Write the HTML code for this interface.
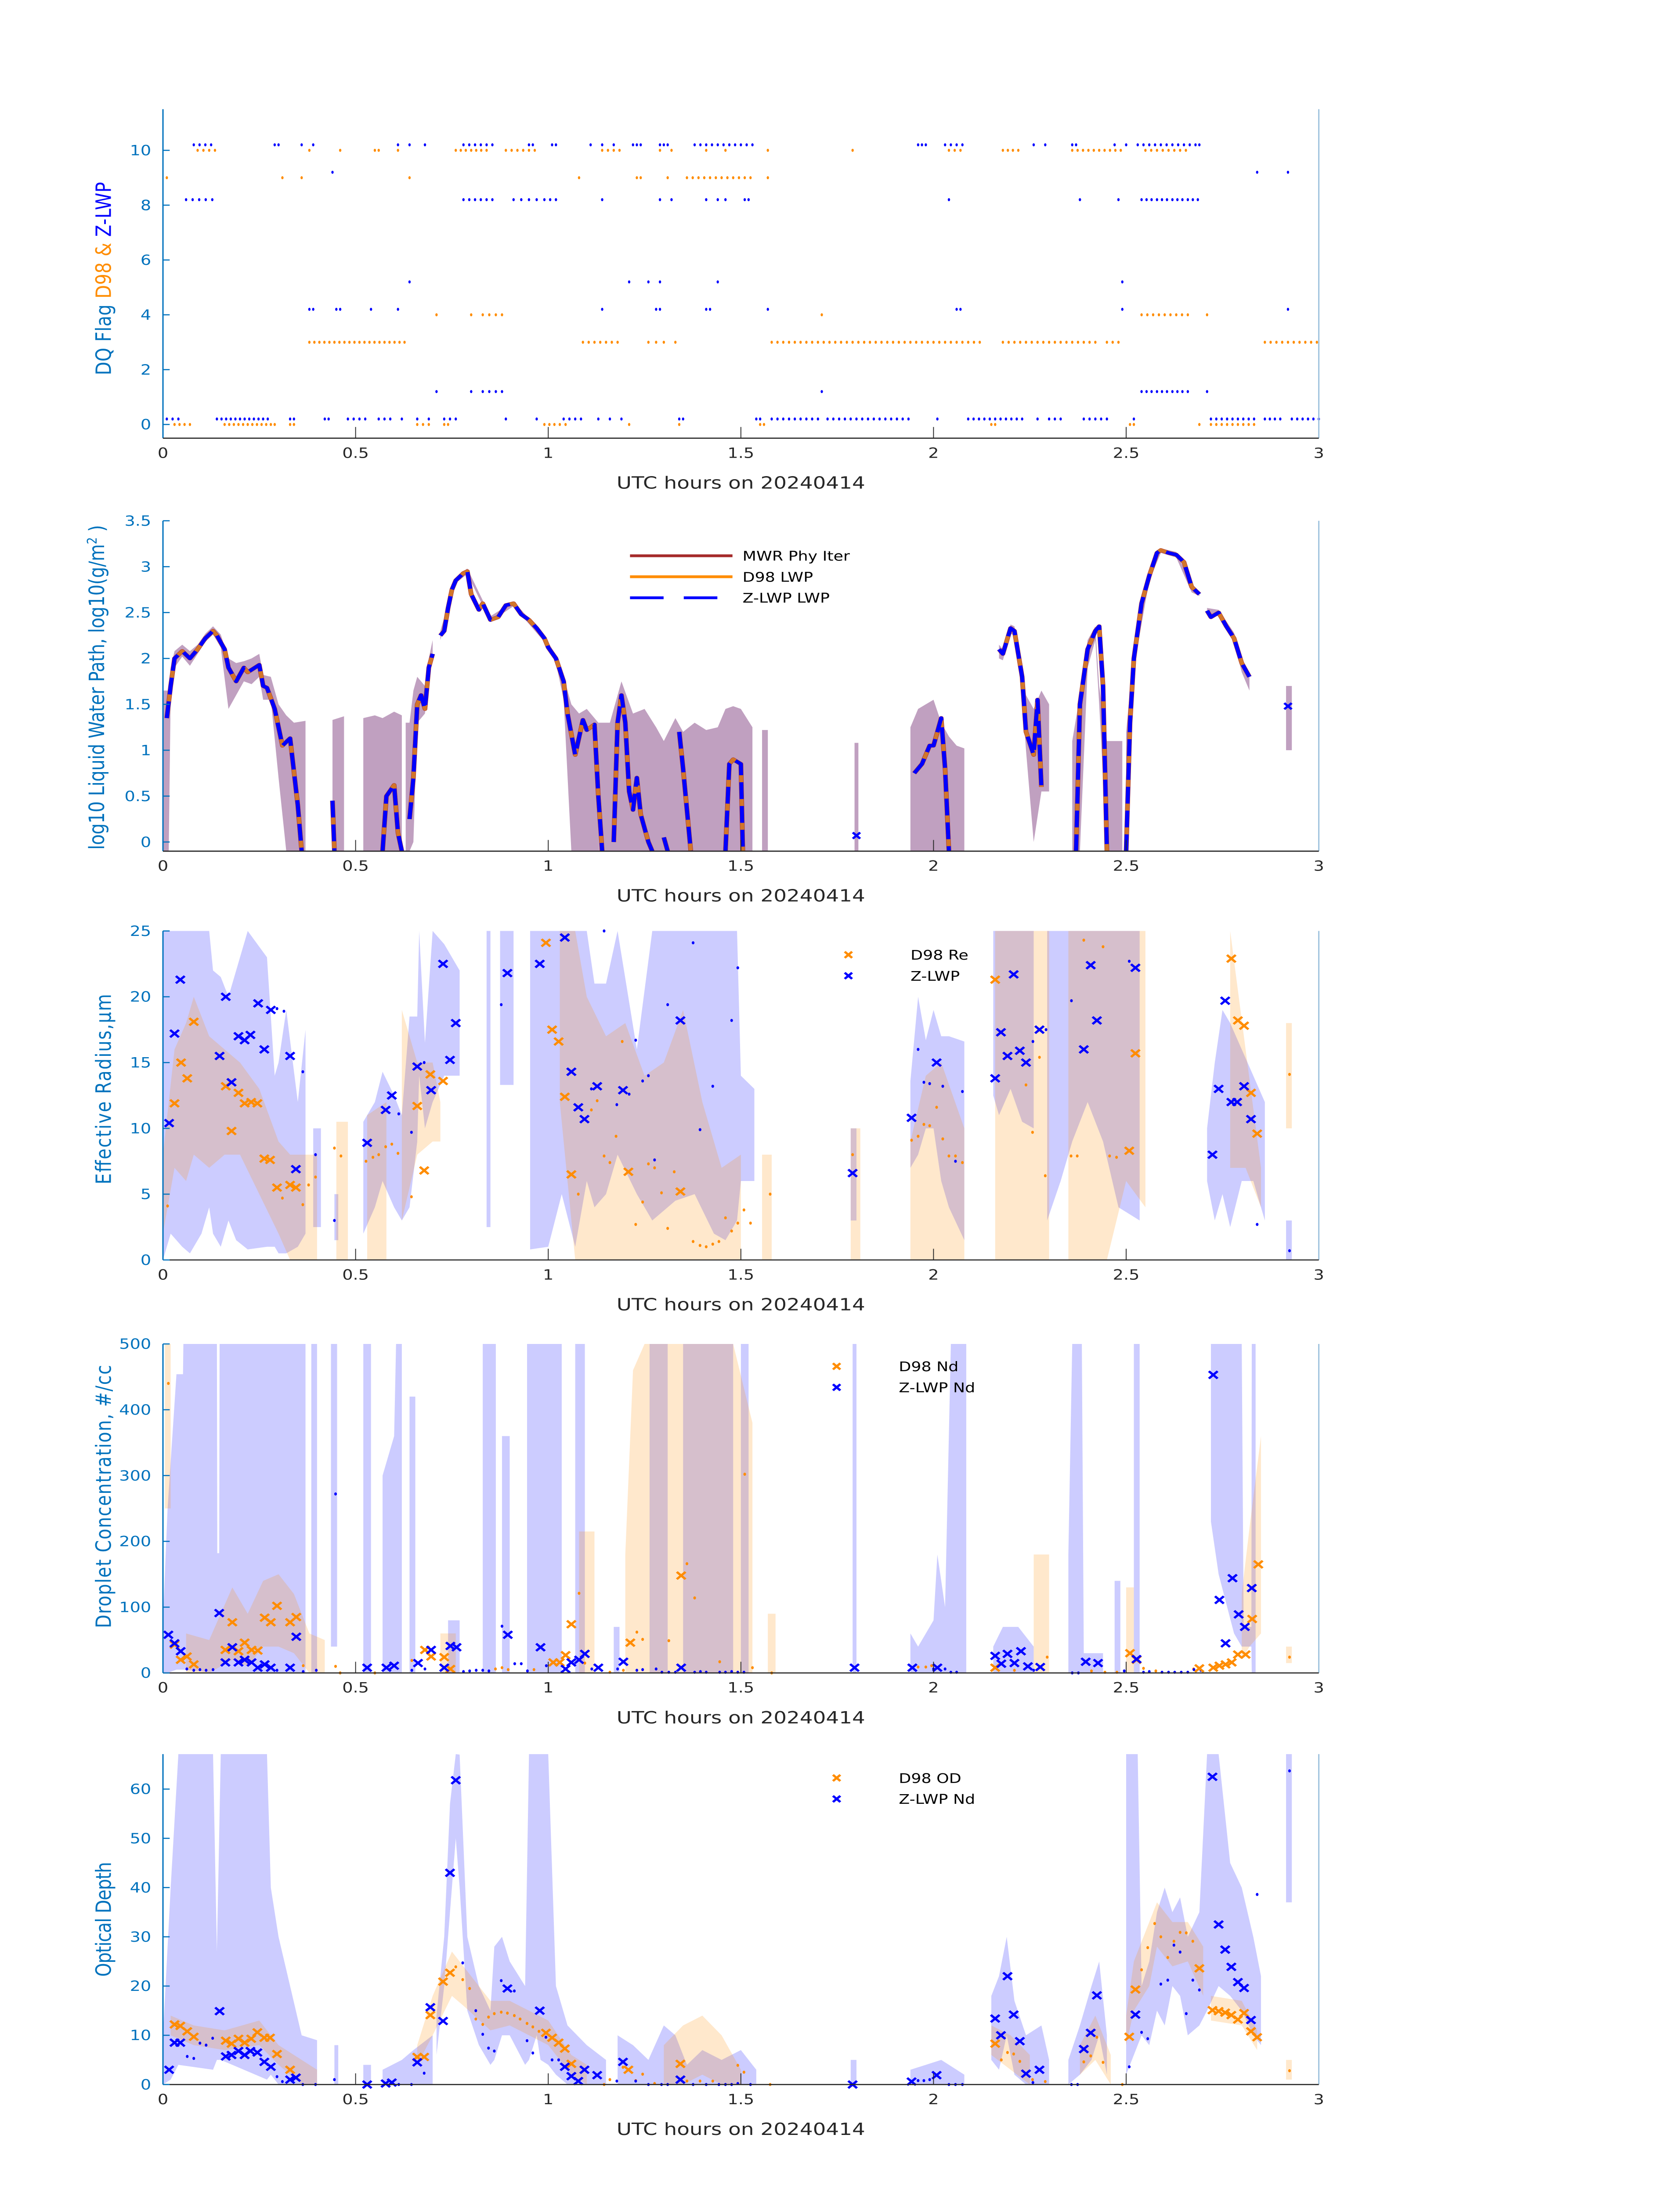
<!DOCTYPE html>
<html><head><meta charset="utf-8"><title>Cloud retrieval time series</title>
<style>html,body{margin:0;padding:0;background:#fff;width:100vw;height:100vh;overflow:hidden}svg{display:block;position:fixed;left:0;top:0;width:100vw;height:100vh}text{font-family:"DejaVu Sans","Liberation Sans",sans-serif}</style>
</head><body>
<svg id="fig" xmlns="http://www.w3.org/2000/svg" viewBox="0 0 1000 1568.63" preserveAspectRatio="none">
<rect x="0" y="0" width="1000" height="1568.63" fill="#fff"/>
<g id="p1"></g>
<g id="p2"></g>
<g id="p3"></g>
<g id="p4"></g>
<g id="p5"></g>
</svg>
<script>
// ---------- DATA ----------
const xTicks=[0,0.5,1,1.5,2,2.5,3];
const xTickLabels=['0','0.5','1','1.5','2','2.5','3'];
// Panel 1: DQ flags (times in hours for each flag level)
const zFlag10_2=[0.08,0.095,0.11,0.125,0.29,0.3,0.36,0.39,0.61,0.64,0.68,0.78,0.795,0.81,0.825,0.84,0.855,0.95,0.96,1.01,1.02,1.11,1.14,1.17,1.22,1.23,1.24,1.29,1.3,1.31,1.38,1.395,1.41,1.425,1.44,1.455,1.47,1.485,1.5,1.515,1.53,1.96,1.97,1.98,2.03,2.045,2.06,2.075,2.26,2.29,2.36,2.37,2.47,2.5,2.53,2.545,2.56,2.575,2.59,2.605,2.62,2.635,2.65,2.665,2.68,2.69];
const dFlag10=[0.09,0.105,0.12,0.135,0.38,0.46,0.55,0.56,0.61,0.76,0.773,0.786,0.8,0.813,0.826,0.84,0.89,0.905,0.92,0.935,0.95,0.965,1.14,1.155,1.17,1.185,1.29,1.32,1.41,1.46,1.57,1.79,2.04,2.055,2.07,2.18,2.193,2.206,2.22,2.36,2.374,2.388,2.402,2.416,2.43,2.444,2.458,2.472,2.486,2.55,2.565,2.58,2.595,2.61,2.625,2.64,2.655];
const zFlag9_2=[0.44,2.84,2.92];
const dFlag9=[0.01,0.31,0.36,0.64,1.08,1.23,1.24,1.31,1.36,1.375,1.39,1.405,1.42,1.435,1.45,1.465,1.48,1.495,1.51,1.525,1.57];
const zFlag8_2=[0.06,0.077,0.094,0.111,0.128,0.78,0.795,0.81,0.825,0.84,0.855,0.91,0.93,0.95,0.97,0.99,1.005,1.02,1.14,1.29,1.32,1.41,1.44,1.46,1.51,1.52,2.04,2.38,2.48,2.54,2.553,2.566,2.58,2.593,2.606,2.62,2.633,2.646,2.66,2.673,2.686];
const zFlag5_2=[0.64,1.21,1.26,1.29,1.44,2.49];
const zFlag4_2=[0.38,0.39,0.45,0.46,0.54,0.61,1.14,1.28,1.29,1.41,1.42,1.57,2.06,2.07,2.49,2.92];
const dFlag4=[0.71,0.8,0.83,0.847,0.864,0.88,1.71,2.54,2.555,2.57,2.585,2.6,2.615,2.63,2.645,2.66,2.71];
const dFlag3=[0.38,0.393,0.406,0.419,0.432,0.445,0.458,0.471,0.484,0.497,0.51,0.523,0.536,0.549,0.562,0.575,0.588,0.601,0.614,0.627,1.09,1.105,1.12,1.135,1.15,1.165,1.18,1.26,1.28,1.3,1.33,1.58,1.595,1.61,1.625,1.64,1.655,1.67,1.685,1.7,1.715,1.73,1.745,1.76,1.775,1.79,1.805,1.82,1.835,1.85,1.865,1.88,1.895,1.91,1.925,1.94,1.955,1.97,1.985,2.0,2.015,2.03,2.045,2.06,2.075,2.09,2.105,2.12,2.18,2.195,2.21,2.225,2.24,2.255,2.27,2.285,2.3,2.315,2.33,2.345,2.36,2.375,2.39,2.405,2.42,2.45,2.465,2.48,2.86,2.875,2.89,2.905,2.92,2.935,2.95,2.965,2.98,2.995];
const zFlag1_2=[0.71,0.8,0.83,0.847,0.864,0.88,1.71,2.54,2.553,2.566,2.58,2.593,2.606,2.62,2.633,2.646,2.66,2.71];
const zFlag0_2=[0.01,0.025,0.04,0.14,0.152,0.164,0.176,0.188,0.2,0.212,0.224,0.236,0.248,0.26,0.272,0.33,0.34,0.42,0.43,0.48,0.495,0.51,0.525,0.56,0.575,0.59,0.62,0.66,0.69,0.73,0.745,0.76,0.89,0.97,1.04,1.055,1.07,1.085,1.13,1.16,1.19,1.34,1.35,1.54,1.55,1.58,1.595,1.61,1.625,1.64,1.655,1.67,1.685,1.7,1.725,1.74,1.755,1.77,1.785,1.8,1.815,1.83,1.845,1.86,1.875,1.89,1.905,1.92,1.935,2.01,2.09,2.104,2.118,2.132,2.146,2.16,2.174,2.188,2.202,2.216,2.23,2.27,2.3,2.315,2.33,2.39,2.405,2.42,2.435,2.45,2.52,2.72,2.734,2.748,2.762,2.776,2.79,2.804,2.818,2.832,2.86,2.873,2.886,2.9,2.93,2.944,2.958,2.972,2.986,3.0];
const dFlag0=[0.03,0.043,0.056,0.07,0.16,0.172,0.184,0.196,0.208,0.22,0.232,0.244,0.256,0.268,0.28,0.29,0.33,0.34,0.66,0.675,0.69,0.73,0.74,0.99,1.003,1.016,1.03,1.045,1.21,1.34,1.55,1.56,2.15,2.16,2.51,2.52,2.69,2.72,2.734,2.748,2.762,2.776,2.79,2.804,2.818,2.832];

// Panel 2: log10 LWP line segments [t, value]
const lwpSegs=[
 [[0.01,1.35],[0.02,1.7],[0.03,2.0],[0.05,2.08],[0.07,2.0],[0.09,2.1],[0.11,2.22],[0.13,2.3],[0.14,2.25],[0.16,2.1],[0.17,1.9],[0.19,1.75],[0.21,1.9],[0.22,1.85],[0.25,1.93],[0.26,1.7],[0.27,1.68],[0.29,1.45],[0.31,1.05],[0.33,1.13],[0.35,0.4],[0.36,-0.1]],
 [[0.44,0.45],[0.445,-0.1]],
 [[0.57,-0.1],[0.58,0.5],[0.6,0.62],[0.61,0.1],[0.62,-0.1]],
 [[0.64,0.25],[0.65,0.7],[0.66,1.5],[0.67,1.6],[0.68,1.45],[0.69,1.9],[0.7,2.05]],
 [[0.72,2.25],[0.73,2.3],[0.74,2.55],[0.75,2.75],[0.76,2.85],[0.78,2.93],[0.79,2.95],[0.8,2.7],[0.82,2.53],[0.83,2.6],[0.85,2.42],[0.87,2.45],[0.89,2.58],[0.91,2.6],[0.93,2.48],[0.95,2.42],[0.97,2.33],[0.99,2.22],[1.0,2.12],[1.02,2.0],[1.04,1.75],[1.05,1.4],[1.07,0.95],[1.09,1.33],[1.1,1.22],[1.12,1.28],[1.13,0.5],[1.14,-0.1]],
 [[1.17,0.0],[1.18,1.3],[1.19,1.6],[1.2,1.3],[1.21,0.55],[1.22,0.35],[1.23,0.7],[1.24,0.3],[1.26,0.0],[1.27,-0.1]],
 [[1.3,0.05],[1.31,-0.1]],
 [[1.34,1.2],[1.35,0.8],[1.37,-0.1]],
 [[1.46,-0.1],[1.47,0.85],[1.48,0.9],[1.5,0.85],[1.505,-0.1]],
 [[1.95,0.75],[1.97,0.85],[1.99,1.05],[2.0,1.05],[2.02,1.35],[2.03,0.8],[2.04,-0.1]],
 [[2.17,2.1],[2.18,2.05],[2.2,2.33],[2.21,2.3],[2.23,1.8],[2.24,1.2],[2.26,0.95],[2.27,1.55],[2.28,0.6]],
 [[2.37,-0.1],[2.38,1.5],[2.4,2.1],[2.42,2.3],[2.43,2.35],[2.44,1.7],[2.45,-0.1]],
 [[2.5,-0.1],[2.51,1.3],[2.52,2.0],[2.54,2.6],[2.56,2.9],[2.58,3.15],[2.59,3.18],[2.61,3.15],[2.63,3.13],[2.65,3.05],[2.67,2.78],[2.69,2.7]],
 [[2.71,2.52],[2.72,2.45],[2.74,2.5],[2.76,2.35],[2.78,2.22],[2.8,1.95],[2.82,1.8]]
];
const lwpMarkers=[[1.8,0.07],[2.92,1.48]];
// band segments [t, lo, hi]
const lwpBand=[
 [[0.0,-0.1,1.65],[0.015,-0.1,1.65],[0.02,1.6,1.9],[0.03,1.9,2.08],[0.05,2.02,2.15],[0.07,1.92,2.08],[0.09,2.05,2.15],[0.11,2.18,2.27],[0.13,2.26,2.35],[0.15,2.12,2.26],[0.17,1.45,2.0],[0.19,1.6,1.95],[0.21,1.75,1.97],[0.23,1.72,2.0],[0.25,1.8,2.05],[0.26,1.55,1.82],[0.28,1.55,1.8],[0.3,0.7,1.5],[0.32,-0.1,1.38],[0.34,-0.1,1.3],[0.37,-0.1,1.32]],
 [[0.44,-0.1,1.33],[0.47,-0.1,1.37]],
 [[0.52,-0.1,1.35],[0.55,-0.1,1.38],[0.57,-0.1,1.35],[0.6,-0.1,1.42],[0.62,-0.1,1.38]],
 [[0.63,-0.1,1.3],[0.64,-0.1,1.3],[0.65,0.0,1.65],[0.66,1.3,1.8],[0.68,1.4,1.7],[0.69,1.8,2.0],[0.7,2.0,2.2]],
 [[0.72,2.2,2.3],[0.76,2.82,2.88],[0.79,2.92,2.98],[0.85,2.4,2.46],[0.91,2.57,2.62],[0.99,2.18,2.25],[1.02,1.95,2.03],[1.04,1.55,1.8],[1.06,-0.1,1.5],[1.08,-0.1,1.4],[1.1,-0.1,1.45],[1.13,-0.1,1.3]],
 [[1.13,-0.1,1.3],[1.16,-0.1,1.3],[1.19,-0.1,1.75],[1.22,-0.1,1.4],[1.25,-0.1,1.45],[1.28,-0.1,1.25],[1.3,-0.1,1.1],[1.33,-0.1,1.35],[1.35,-0.1,1.2],[1.38,-0.1,1.3],[1.41,-0.1,1.22],[1.44,-0.1,1.25],[1.46,-0.1,1.45],[1.48,-0.1,1.48],[1.5,-0.1,1.45],[1.53,-0.1,1.25]],
 [[1.555,-0.1,1.22],[1.57,-0.1,1.22]],
 [[1.795,-0.1,1.08],[1.805,-0.1,1.08]],
 [[1.94,-0.1,1.25],[1.96,-0.1,1.45],[1.98,-0.1,1.5],[2.0,-0.1,1.55],[2.02,-0.1,1.3],[2.04,-0.1,1.15],[2.06,-0.1,1.05],[2.08,-0.1,1.02]],
 [[2.17,2.0,2.15],[2.18,1.98,2.1],[2.2,2.27,2.37],[2.21,2.25,2.35],[2.23,1.6,1.95],[2.24,1.0,1.6],[2.26,0.0,1.45],[2.28,0.55,1.65],[2.3,0.55,1.5]],
 [[2.36,-0.1,1.1],[2.38,-0.1,1.6],[2.4,1.9,2.2],[2.42,2.2,2.35],[2.43,1.5,1.7],[2.45,-0.1,1.1],[2.49,-0.1,1.1]],
 [[2.5,-0.1,1.2],[2.52,1.9,2.1],[2.56,2.85,2.95],[2.59,3.15,3.2],[2.63,3.1,3.16],[2.67,2.72,2.8],[2.69,2.68,2.73]],
 [[2.71,2.48,2.55],[2.74,2.46,2.53],[2.78,2.18,2.28],[2.8,1.85,2.0],[2.82,1.65,1.85]],
 [[2.915,1.0,1.7],[2.93,1.0,1.7]]
];

// Panel 3: effective radius
const reZBig=[[0.016,10.4],[0.03,17.2],[0.045,21.3],[0.147,15.5],[0.163,20],[0.178,13.5],[0.196,17],[0.212,16.7],[0.227,17.1],[0.247,19.5],[0.263,16],[0.28,19],[0.33,15.5],[0.345,6.9],[0.53,8.9],[0.578,11.4],[0.594,12.5],[0.66,14.7],[0.696,12.9],[0.727,22.5],[0.745,15.2],[0.76,18],[0.894,21.8],[0.978,22.5],[1.043,24.5],[1.06,14.3],[1.078,11.6],[1.094,10.7],[1.127,13.2],[1.194,12.9],[1.343,18.2],[1.79,6.6],[1.943,10.8],[2.008,15],[2.16,13.8],[2.175,17.3],[2.192,15.5],[2.208,21.7],[2.224,15.9],[2.24,15],[2.275,17.5],[2.39,16],[2.408,22.4],[2.424,18.2],[2.524,22.2],[2.724,8],[2.74,13],[2.757,19.7],[2.773,12],[2.788,12],[2.806,13.2],[2.824,10.7]];
const reDBig=[[0.03,11.9],[0.047,15],[0.063,13.8],[0.08,18.1],[0.163,13.2],[0.178,9.8],[0.196,12.7],[0.212,11.9],[0.229,12],[0.245,11.9],[0.263,7.7],[0.278,7.6],[0.296,5.5],[0.33,5.7],[0.345,5.5],[0.66,11.7],[0.678,6.8],[0.694,14.1],[0.727,13.6],[0.994,24.1],[1.01,17.5],[1.027,16.6],[1.043,12.4],[1.06,6.5],[1.208,6.7],[1.343,5.2],[2.16,21.3],[2.508,8.3],[2.524,15.7],[2.773,22.9],[2.79,18.2],[2.806,17.8],[2.824,12.7],[2.84,9.6]];
const reDSmall=[[0.012,4.1],[0.31,4.7],[0.363,4.2],[0.378,5.7],[0.396,6.3],[0.445,8.5],[0.462,7.9],[0.527,7.5],[0.545,7.8],[0.56,8],[0.578,8.6],[0.594,8.8],[0.61,8.1],[0.645,4.8],[1.078,5],[1.112,11.4],[1.127,12.1],[1.145,7.9],[1.16,7.4],[1.176,9.4],[1.192,16.6],[1.227,2.7],[1.245,4.4],[1.26,7.3],[1.276,7],[1.294,5.1],[1.31,2.4],[1.327,6.7],[1.376,1.4],[1.394,1.1],[1.41,1],[1.427,1.2],[1.443,1.4],[1.46,3.2],[1.476,2.2],[1.492,2.8],[1.508,3.8],[1.525,2.8],[1.576,5],[1.79,8],[1.943,9.1],[1.96,9.4],[1.975,10.3],[1.99,10.2],[2.008,11.6],[2.024,9.2],[2.04,7.9],[2.057,7.9],[2.075,7.4],[2.24,13.3],[2.257,9.7],[2.275,15.4],[2.29,6.4],[2.357,7.9],[2.373,7.9],[2.39,24.3],[2.44,23.8],[2.457,7.9],[2.475,7.8],[2.924,14.1]];
const reZSmall=[[0.296,19.1],[0.314,18.9],[0.363,14.3],[0.396,8],[0.445,3],[0.612,11.1],[0.645,9.7],[0.678,15],[0.878,19.4],[1.145,25],[1.112,13],[1.178,11.8],[1.21,12.6],[1.227,16.7],[1.245,13.6],[1.26,14],[1.276,7.6],[1.31,19.4],[1.376,24.1],[1.394,9.9],[1.427,13.2],[1.476,18.2],[1.492,22.2],[1.96,16],[1.975,13.5],[1.99,13.4],[2.024,13.2],[2.057,7.5],[2.075,12.8],[2.258,16.6],[2.292,17.5],[2.358,19.7],[2.508,22.7],[2.84,2.7],[2.924,0.7]];
const reZBand=[
 [[0.0,0,25],[0.02,2,25],[0.05,1,25],[0.07,0.5,25],[0.1,2,25],[0.12,4,25],[0.13,2,22],[0.15,1,21.5],[0.17,3,20],[0.19,1.5,22],[0.22,0.8,25],[0.27,1,23],[0.29,1,14],[0.3,0.5,15],[0.32,0.5,19],[0.35,1,12],[0.37,2,17.5]],
 [[0.39,2.5,10],[0.41,2.5,10]],[[0.445,1.5,5],[0.455,1.5,5]],
 [[0.52,2,10.5],[0.55,4,12],[0.57,6,14.3],[0.6,4,12.5],[0.62,3,11],[0.64,4,18.5],[0.66,9,18.5],[0.665,14,25],[0.68,10,16.5],[0.7,12,25],[0.73,14,24],[0.77,14,22]],
 [[0.84,2.5,25],[0.85,2.5,25]],[[0.875,13.3,25],[0.91,13.3,25]],
 [[0.953,0.8,25],[1.0,1,25],[1.035,5,25],[1.07,1,25],[1.1,6,25],[1.12,4,21],[1.15,5,21],[1.18,8,25],[1.23,5,16],[1.27,3,25],[1.33,4.5,25],[1.38,5,25],[1.43,2,25],[1.46,1.5,25],[1.49,3,25],[1.5,6,14],[1.535,6,13]],
 [[1.785,3,10],[1.8,3,10]],
 [[1.94,7,13.6],[1.96,8,20],[1.98,10,16.7],[2.0,10,19],[2.02,6,17],[2.04,4,17],[2.08,1.5,16.6]],
 [[2.155,12.5,25],[2.17,11,25],[2.2,13,25],[2.23,10.5,25],[2.26,10,25]],
 [[2.295,3,25],[2.33,6,25],[2.36,9,25],[2.4,12,25],[2.44,9,25],[2.48,4,25],[2.535,3,25]],
 [[2.71,6,10],[2.73,3,15],[2.75,5,19],[2.77,2.5,18],[2.8,6,16],[2.83,6,14],[2.86,3,12]],
 [[2.915,0,3],[2.93,0,3]]
];
const reDBand=[
 [[0.0,2,8],[0.03,7,16],[0.06,6,18],[0.08,8,20],[0.12,7,17],[0.16,8,16],[0.2,8,15],[0.25,5,13],[0.3,2,9],[0.33,0,8],[0.4,0,8]],
 [[0.45,0,10.5],[0.48,0,10.5]],[[0.53,0,11],[0.58,0,12]],
 [[0.62,3,19],[0.66,8,15],[0.7,9,15],[0.72,9,12]],
 [[1.03,12,25],[1.07,0,25],[1.1,0,20],[1.15,0,17],[1.2,0,18],[1.25,0,14],[1.3,0,15],[1.35,0,19],[1.4,0,12],[1.45,0,7],[1.5,0,8]],
 [[1.555,0,8],[1.58,0,8]],[[1.785,0,10],[1.81,0,10]],
 [[1.94,0,9],[1.98,0,14],[2.02,0,15],[2.08,0,10]],
 [[2.16,0,25],[2.3,0,25]],[[2.35,0,25],[2.45,0,25],[2.5,6,25],[2.55,4,25]],
 [[2.77,7,25],[2.81,7,16],[2.85,4,7]],
 [[2.915,10,18],[2.93,10,18]]
];

// Panel 4: droplet concentration
const ndZBig=[[0.014,58],[0.03,45],[0.046,33],[0.146,91],[0.162,16],[0.18,39],[0.196,16],[0.212,20],[0.23,16],[0.246,8],[0.264,13],[0.28,8],[0.33,8],[0.346,55],[0.53,8],[0.58,8],[0.6,11],[0.662,15],[0.696,35],[0.73,8],[0.746,41],[0.762,39],[0.895,58],[0.98,39],[1.045,6],[1.06,16],[1.08,20],[1.095,29],[1.13,8],[1.195,17],[1.345,8],[1.795,8],[1.945,8],[2.01,8],[2.16,26],[2.176,14],[2.192,29],[2.21,15],[2.227,33],[2.245,10],[2.277,9],[2.395,17],[2.427,15],[2.527,21],[2.726,453],[2.742,111],[2.758,45],[2.776,144],[2.792,89],[2.808,70],[2.826,129]];
const ndDBig=[[0.03,43],[0.046,20],[0.062,25],[0.08,13],[0.162,35],[0.18,77],[0.196,33],[0.212,46],[0.23,35],[0.246,34],[0.264,84],[0.28,77],[0.296,102],[0.33,77],[0.346,85],[0.68,35],[0.696,25],[0.73,24],[0.746,6],[1.013,16],[1.03,16],[1.045,27],[1.06,74],[1.213,46],[1.345,148],[2.16,8],[2.51,30],[2.527,20],[2.69,7],[2.726,8],[2.742,11],[2.758,13],[2.774,16],[2.79,28],[2.81,28],[2.827,82],[2.843,165]];
const ndDSmall=[[0.014,440],[0.364,11],[0.448,10],[0.46,0],[0.55,0],[0.646,19],[0.863,6],[0.88,8],[0.896,5],[0.963,5],[1.08,121],[1.095,15],[1.16,1],[1.195,4],[1.23,62],[1.245,51],[1.313,49],[1.36,166],[1.38,114],[1.445,17],[1.51,302],[1.53,8],[1.58,0],[1.96,9],[1.98,9],[1.995,11],[2.21,4],[2.295,24],[2.41,3],[2.445,1],[2.476,1],[2.545,7],[2.577,3],[2.675,6],[2.924,24]];
const ndZSmall=[[0.062,6],[0.08,4],[0.096,5],[0.112,4],[0.13,5],[0.296,4],[0.364,2],[0.398,4],[0.448,272],[0.646,4],[0.68,6],[0.78,2],[0.796,3],[0.813,4],[0.83,4],[0.846,3],[0.88,71],[0.913,14],[0.93,14],[0.946,3],[0.995,11],[1.113,6],[1.18,6],[1.23,4],[1.245,5],[1.28,6],[1.295,1],[1.313,1],[1.33,1],[1.38,1],[1.395,2],[1.41,1],[1.445,1],[1.46,1],[1.476,2],[1.492,1],[1.508,1],[2.0,6],[2.03,6],[2.045,1],[2.06,1],[2.26,4],[2.36,0],[2.376,0],[2.495,3],[2.545,1],[2.56,2],[2.593,1],[2.61,1],[2.626,1],[2.643,1],[2.66,1],[2.676,5],[2.694,4]];
const ndZBand=[
 [[0.0,0,80],[0.012,0,250],[0.035,5,454],[0.052,5,454],[0.053,5,500],[0.14,0,500],[0.141,0,182],[0.146,0,182],[0.147,0,500],[0.2,0,500],[0.37,0,500]],
 [[0.385,0,500],[0.4,0,500]],[[0.436,40,500],[0.452,40,500]],[[0.52,0,500],[0.54,0,500]],
 [[0.57,0,300],[0.6,0,360],[0.605,0,500],[0.62,0,500]],[[0.64,0,420],[0.655,0,420]],
 [[0.74,0,80],[0.77,0,80]],[[0.83,0,500],[0.864,0,500]],[[0.88,0,360],[0.9,0,360]],
 [[0.945,0,500],[1.035,0,500]],[[1.07,0,500],[1.095,0,500]],[[1.17,0,70],[1.185,0,70]],
 [[1.263,0,500],[1.31,0,500]],[[1.35,0,500],[1.48,0,500]],[[1.5,0,500],[1.52,0,500]],
 [[1.79,0,500],[1.8,0,500]],
 [[1.94,0,60],[1.96,0,40],[2.0,0,80],[2.01,0,180],[2.03,0,100],[2.045,0,500],[2.085,0,500]],
 [[2.155,0,40],[2.18,0,70],[2.22,0,70],[2.26,0,40]],
 [[2.35,0,180],[2.36,0,500],[2.385,0,500],[2.39,0,30],[2.44,0,30]],[[2.47,0,140],[2.485,0,140]],[[2.52,0,500],[2.535,0,500]],
 [[2.72,230,500],[2.74,150,500],[2.78,60,500],[2.8,40,500],[2.805,40,70],[2.825,40,70],[2.826,0,500],[2.836,0,500]]
];
const ndDBand=[
 [[0.005,250,500],[0.02,250,500]],
 [[0.06,0,60],[0.12,0,50],[0.18,20,130],[0.22,10,90],[0.26,40,140],[0.3,40,150],[0.34,30,120],[0.38,0,60],[0.42,0,50]],
 [[0.72,0,60],[0.76,0,60]],[[1.08,0,215],[1.12,0,215]],
 [[1.2,0,180],[1.22,0,460],[1.25,0,500],[1.46,0,500],[1.48,0,500],[1.53,0,380]],
 [[1.57,0,90],[1.59,0,90]],[[2.26,0,180],[2.3,0,180]],[[2.5,0,130],[2.52,0,130]],
 [[2.8,20,120],[2.82,40,220],[2.85,60,360]],[[2.915,15,40],[2.93,15,40]]
];

// Panel 5: optical depth
const odZBig=[[0.016,3],[0.03,8.5],[0.045,8.5],[0.147,14.9],[0.163,5.7],[0.178,6],[0.196,6.8],[0.212,6],[0.227,6.8],[0.245,6.5],[0.263,4.6],[0.28,3.6],[0.33,1],[0.345,1.4],[0.53,0],[0.578,0.2],[0.594,0.4],[0.66,4.5],[0.694,15.7],[0.727,12.9],[0.745,43],[0.76,61.8],[0.894,19.5],[0.978,15],[1.043,3.6],[1.06,1.7],[1.078,0.7],[1.094,3],[1.127,1.9],[1.194,4.6],[1.343,1],[1.79,0],[1.943,0.6],[2.008,1.9],[2.16,13.4],[2.175,10],[2.192,22],[2.208,14.2],[2.224,8.8],[2.24,2.2],[2.275,3],[2.39,7.2],[2.408,10.5],[2.424,18.1],[2.524,14.2],[2.724,62.5],[2.74,32.5],[2.757,27.4],[2.773,23.9],[2.79,20.8],[2.806,19.6],[2.824,13.1]];
const odDBig=[[0.03,12.2],[0.045,11.9],[0.063,10.8],[0.08,9.7],[0.163,8.9],[0.178,8.3],[0.196,9.3],[0.212,8.5],[0.229,9.3],[0.245,10.6],[0.263,9.5],[0.278,9.5],[0.296,6.2],[0.33,3],[0.66,5.6],[0.678,5.6],[0.694,14.1],[0.727,20.9],[0.745,22.7],[0.994,10.5],[1.01,9.5],[1.027,8.5],[1.043,7.3],[1.06,4.2],[1.208,3],[1.343,4.2],[2.16,8.3],[2.508,9.7],[2.524,19.3],[2.69,23.6],[2.724,15.1],[2.74,14.9],[2.757,14.6],[2.773,14.1],[2.79,13.2],[2.806,14.5],[2.824,10.8],[2.84,9.6]];
const odDSmall=[[0.76,23.9],[0.778,21.3],[0.796,19.5],[0.812,13.3],[0.83,12.2],[0.845,13.7],[0.86,14.4],[0.878,14.7],[0.894,14.5],[0.912,14],[0.927,13.3],[0.945,12.4],[0.96,11.7],[0.976,10.8],[1.145,0],[1.16,1],[1.194,3.5],[1.227,0.8],[1.245,2.1],[1.276,0.2],[1.36,0.7],[1.394,0.7],[1.427,0.7],[1.492,3.9],[1.508,2.5],[1.576,0],[2.176,5],[2.192,6.5],[2.208,6.2],[2.224,4.7],[2.257,1],[2.29,0.6],[2.39,4.6],[2.408,5.8],[2.424,9.6],[2.44,4.5],[2.49,0],[2.54,23.3],[2.556,27.8],[2.574,32.7],[2.59,30],[2.608,25.8],[2.624,29.1],[2.64,30.9],[2.656,30.8],[2.673,29.1],[2.924,2.8]];
const odZSmall=[[0.063,5.7],[0.08,5.3],[0.096,8.4],[0.112,8],[0.129,9.4],[0.296,1.6],[0.31,0.6],[0.363,0],[0.396,0],[0.445,1],[0.612,0],[0.645,0],[0.678,2.3],[0.778,24.7],[0.812,15],[0.83,10.2],[0.845,7.4],[0.86,6.8],[0.878,21.1],[0.912,19],[0.945,8.9],[0.96,6.4],[0.994,9.6],[1.01,5],[1.027,5],[1.178,0.7],[1.227,0.7],[1.26,0],[1.294,0],[1.31,0],[1.376,0],[1.41,0],[1.443,0],[1.46,0],[1.476,0],[1.492,0.2],[1.525,0],[1.96,0.8],[1.975,0.8],[1.99,1],[2.04,0],[2.057,0],[2.075,0],[2.258,0.4],[2.358,0],[2.374,0],[2.508,3.6],[2.54,10.6],[2.556,9.3],[2.59,20.4],[2.608,21.2],[2.624,28.3],[2.64,26.9],[2.656,14.4],[2.673,21.2],[2.69,19.2],[2.84,38.6],[2.924,63.7]];
const odZBand=[
 [[0.0,0,10],[0.02,1,40],[0.04,4,67.1],[0.13,3,67.1],[0.14,5,27],[0.15,5,67.1],[0.27,1,67.1],[0.28,2,40],[0.3,0,30],[0.33,0,20],[0.36,0,10],[0.4,0,9]],
 [[0.445,0,8],[0.455,0,8]],[[0.52,0,4],[0.54,0,4]],[[0.57,0,3],[0.62,0,5],[0.65,0,7],[0.7,0,10]],
 [[0.71,6,14],[0.73,20,30],[0.745,35,57],[0.76,50,67.1],[0.77,40,67],[0.79,15,30],[0.82,8,20],[0.85,4,15],[0.86,5,28],[0.88,10,30],[0.9,10,25],[0.94,4,20],[0.95,5,67.1],[0.97,10,67.1],[0.98,5,67.1],[1.0,4,67.1],[1.02,2,20],[1.05,0,12],[1.1,0,8],[1.15,0,5]],
 [[1.18,0,10],[1.22,0,8],[1.26,0,5],[1.3,0,12],[1.33,0,10],[1.36,0,4],[1.4,0,7],[1.45,0,5],[1.5,0,7],[1.54,0,3]],
 [[1.785,0,5],[1.8,0,5]],[[1.94,0,3],[1.98,0,4],[2.02,0,5],[2.08,0,2]],
 [[2.15,5,18],[2.17,3,22],[2.19,10,30],[2.21,2,17],[2.24,0,10],[2.28,0,12],[2.3,0,5]],
 [[2.35,0,5],[2.38,2,12],[2.41,5,20],[2.43,10,25],[2.45,2,10]],
 [[2.5,2,67.1],[2.53,8,67.1],[2.54,10,20],[2.56,8,25],[2.58,15,35],[2.6,12,40],[2.62,20,35],[2.64,18,38],[2.66,10,30],[2.69,12,35],[2.71,15,67.1],[2.74,20,67.1],[2.77,18,45],[2.8,15,40],[2.83,10,30],[2.85,8,22]],
 [[2.915,37,67.1],[2.93,37,67.1]]
];
const odDBand=[
 [[0.02,10,14],[0.08,8,12],[0.16,7,11],[0.25,8,13],[0.3,4,8],[0.36,0,5],[0.4,0,3]],
 [[0.66,4,8],[0.7,10,18],[0.75,18,27],[0.78,16,24],[0.85,11,17],[0.9,12,17],[1.0,8,13],[1.06,2,6],[1.1,0,4]],
 [[1.3,0,8],[1.35,0,12],[1.4,2,14],[1.45,0,10],[1.5,0,3]],
 [[2.15,6,12],[2.2,3,10],[2.25,0,6]],[[2.38,2,8],[2.42,5,14],[2.46,0,6]],
 [[2.5,8,14],[2.52,15,25],[2.56,20,33],[2.58,28,37],[2.62,24,33],[2.66,25,33],[2.7,18,28]],
 [[2.72,13,18],[2.8,12,17],[2.84,7,11]],[[2.915,1,5],[2.93,1,5]]
];

// ---------- DRAWING ----------
const NS='http://www.w3.org/2000/svg';
const X0=97,X1=785;
function sx(t){return X0+(X1-X0)*t/3;}
function mk(parent,tag,attrs,name,inter){
  const el=document.createElementNS(NS,tag);
  for(const k in attrs)el.setAttribute(k,attrs[k]);
  
  
  parent.appendChild(el);return el;
}
function txt(parent,x,y,s,attrs,name){
  const el=mk(parent,'text',Object.assign({x:x,y:y},attrs),name,false);
  el.textContent=s;return el;
}
function makePanel(id,top,bot,ymin,ymax,yticks,ylabels){
  const g=document.getElementById(id);
  const sy=v=>bot-(v-ymin)/(ymax-ymin)*(bot-top);
  const P={g:g,sy:sy,top:top,bot:bot};
  P.marks=mk(g,'g',{},'plot-area',false);
  P.axes=mk(g,'g',{},'axes',false);
  mk(P.axes,'line',{x1:X1,y1:top,x2:X1,y2:bot,stroke:'#9fc3de','stroke-width':0.8},'right-axis-line',false);
  mk(P.axes,'line',{x1:X0,y1:top,x2:X0,y2:bot,stroke:'#0072BD','stroke-width':0.8},'y-axis-line',false);
  mk(P.axes,'line',{x1:X0,y1:bot,x2:X1,y2:bot,stroke:'#262626','stroke-width':0.8},'x-axis-line',false);
  yticks.forEach((v,i)=>{
    const y=sy(v);
    mk(P.axes,'line',{x1:X0,y1:y,x2:X0+4,y2:y,stroke:'#0072BD','stroke-width':0.8},'y-tick',false);
    txt(P.axes,X0-7,y+3.5,ylabels[i],{'text-anchor':'end','font-size':10,fill:'#0072BD'},'y-tick-label');
  });
  xTicks.forEach((t,i)=>{
    const x=sx(t);
    if(i>0&&i<xTicks.length-1)mk(P.axes,'line',{x1:x,y1:bot,x2:x,y2:bot-8,stroke:'#262626','stroke-width':0.5},'x-tick',false);
    txt(P.axes,x,bot+14,xTickLabels[i],{'text-anchor':'middle','font-size':10,fill:'#262626'},'x-tick-label');
  });
  txt(P.axes,441,bot+36,'UTC hours on 20240414',{'text-anchor':'middle','font-size':12,fill:'#262626',textLength:148,lengthAdjust:'spacingAndGlyphs'},'x-axis-title');
  return P;
}
function band(P,segs,fill,op,name){
  segs.forEach(seg=>{
    let d='';
    seg.forEach((p,i)=>{d+=(i?'L':'M')+sx(p[0]).toFixed(2)+','+P.sy(p[2]).toFixed(2);});
    for(let i=seg.length-1;i>=0;i--)d+='L'+sx(seg[i][0]).toFixed(2)+','+P.sy(seg[i][1]).toFixed(2);
    mk(P.marks,'path',{d:d+'Z',fill:fill,'fill-opacity':op},name,false);
  });
}
function xmark(parent,x,y,col,name,s){
  s=s||2.6;
  mk(parent,'path',{d:`M${x-s},${y-s}L${x+s},${y+s}M${x-s},${y+s}L${x+s},${y-s}`,stroke:col,'stroke-width':1.5},name,false);
}
function bigX(P,arr,col,name){arr.forEach(p=>xmark(P.marks,sx(p[0]),P.sy(p[1]),col,name));}
function dots(P,arr,col,name){arr.forEach(p=>mk(P.marks,'ellipse',{cx:sx(p[0]),cy:P.sy(p[1]),rx:0.8,ry:1.1,fill:col},name,false));}
function ylabelParts(parent,cx,cy,parts,len,name){
  const t=mk(parent,'text',{x:0,y:0,'text-anchor':'middle','font-size':12.5,transform:`translate(${cx},${cy}) rotate(-90)`,textLength:len,lengthAdjust:'spacing'},name,false);
  parts.forEach(p=>{const s=document.createElementNS(NS,'tspan');s.setAttribute('fill',p[1]);if(p[2])s.setAttribute('baseline-shift',p[2]);if(p[3])s.setAttribute('font-size',p[3]);s.textContent=p[0];t.appendChild(s);});
}
const BLUE='#0000ff',ORANGE='#ff8c00',AX='#0072BD';

// Panel 1
(function(){
  const P=makePanel('p1',78,313,-0.5,11.5,[0,2,4,6,8,10],['0','2','4','6','8','10']);
  const lev=(arr,v,col,name)=>arr.forEach(t=>mk(P.marks,'ellipse',{cx:sx(t),cy:P.sy(v),rx:0.7,ry:1.1,fill:col},name,false));
  lev(dFlag10,10,ORANGE,'d98-flag-point');lev(dFlag9,9,ORANGE,'d98-flag-point');lev(dFlag4,4,ORANGE,'d98-flag-point');lev(dFlag3,3,ORANGE,'d98-flag-point');lev(dFlag0,0,ORANGE,'d98-flag-point');
  lev(zFlag10_2,10.2,BLUE,'zlwp-flag-point');lev(zFlag9_2,9.2,BLUE,'zlwp-flag-point');lev(zFlag8_2,8.2,BLUE,'zlwp-flag-point');lev(zFlag5_2,5.2,BLUE,'zlwp-flag-point');lev(zFlag4_2,4.2,BLUE,'zlwp-flag-point');lev(zFlag1_2,1.2,BLUE,'zlwp-flag-point');lev(zFlag0_2,0.2,BLUE,'zlwp-flag-point');
  ylabelParts(P.axes,66,199,[['DQ Flag  ',AX],['D98 &  ',ORANGE],['Z-LWP',BLUE]],138,'y-axis-title');
})();

// Panel 2
(function(){
  const P=makePanel('p2',372,608,-0.1,3.5,[0,0.5,1,1.5,2,2.5,3,3.5],['0','0.5','1','1.5','2','2.5','3','3.5']);
  band(P,lwpBand,'#c0a0c0',1,'lwp-uncertainty-band');
  const line=(col,w,dash,name)=>lwpSegs.forEach(seg=>{
    const d=seg.map((p,i)=>(i?'L':'M')+sx(p[0]).toFixed(2)+','+P.sy(p[1]).toFixed(2)).join('');
    const a={d:d,fill:'none',stroke:col,'stroke-width':w,'stroke-linejoin':'round'};if(dash)a['stroke-dasharray']=dash;
    mk(P.marks,'path',a,name,false);
  });
  line('#a52a2a',2.8,null,'mwr-phy-iter-line');
  line('#d2762a',2.4,null,'d98-lwp-line');
  line(BLUE,2.4,'12,5','zlwp-lwp-line');
  lwpMarkers.forEach(p=>xmark(P.marks,sx(p[0]),P.sy(p[1]),BLUE,'zlwp-lwp-marker',2.2));
  mk(P.axes,'line',{x1:X0,y1:608,x2:X1,y2:608,stroke:'#262626','stroke-width':0.8},'x-axis-baseline',false);
  const L=mk(P.axes,'g',{},'legend',false);
  mk(L,'line',{x1:375,y1:397,x2:436,y2:397,stroke:'#a52a2a','stroke-width':2},'legend-mwr-line',false);
  txt(L,442,400.5,'MWR Phy Iter',{'font-size':9.5,fill:'#000'},'legend-mwr-label');
  mk(L,'line',{x1:375,y1:412,x2:436,y2:412,stroke:ORANGE,'stroke-width':2},'legend-d98-line',false);
  txt(L,442,415.5,'D98 LWP',{'font-size':9.5,fill:'#000'},'legend-d98-label');
  mk(L,'line',{x1:375,y1:427,x2:436,y2:427,stroke:BLUE,'stroke-width':2,'stroke-dasharray':'20,12'},'legend-zlwp-line',false);
  txt(L,442,430.5,'Z-LWP LWP',{'font-size':9.5,fill:'#000'},'legend-zlwp-label');
  ylabelParts(P.axes,62,491,[['log10 Liquid Water Path, log10(g/m',AX],['2','#0072BD','super','8'],[' )',AX]],232,'y-axis-title');
})();

function scatterPanel(id,top,bot,ymax,ticks,labels,zb,db,zBig,dBig,zSm,dSm,legY,leg1,leg2,legX,title,titleY,titleLen){
  const P=makePanel(id,top,bot,0,ymax,ticks,labels);
  band(P,zb,BLUE,0.2,'zlwp-uncertainty-band');
  band(P,db,ORANGE,0.2,'d98-uncertainty-band');
  dots(P,dSm,ORANGE,'d98-small-point');
  dots(P,zSm,BLUE,'zlwp-small-point');
  bigX(P,dBig,ORANGE,'d98-marker');
  bigX(P,zBig,BLUE,'zlwp-marker');
  const L=mk(P.axes,'g',{},'legend',false);
  xmark(L,legX,legY,ORANGE,'legend-d98-marker',2.2);
  txt(L,legX+37,legY+3.5,leg1,{'font-size':9.5,fill:'#000'},'legend-d98-label');
  xmark(L,legX,legY+15,BLUE,'legend-zlwp-marker',2.2);
  txt(L,legX+37,legY+18.5,leg2,{'font-size':9.5,fill:'#000'},'legend-zlwp-label');
  ylabelParts(P.axes,66,titleY,[[title,AX]],titleLen,'y-axis-title');
}
scatterPanel('p3',665,900,25,[0,5,10,15,20,25],['0','5','10','15','20','25'],reZBand,reDBand,reZBig,reDBig,reZSmall,reDSmall,682,'D98 Re','Z-LWP',505,'Effective Radius,μm',778,136);
scatterPanel('p4',960,1195,500,[0,100,200,300,400,500],['0','100','200','300','400','500'],ndZBand,ndDBand,ndZBig,ndDBig,ndZSmall,ndDSmall,976,'D98 Nd','Z-LWP Nd',498,'Droplet Concentration, #/cc',1069,188);
scatterPanel('p5',1253,1489,67.1,[0,10,20,30,40,50,60],['0','10','20','30','40','50','60'],odZBand,odDBand,odZBig,odDBig,odZSmall,odDSmall,1270,'D98 OD','Z-LWP Nd',498,'Optical Depth',1371,82);
</script>
</body></html>
